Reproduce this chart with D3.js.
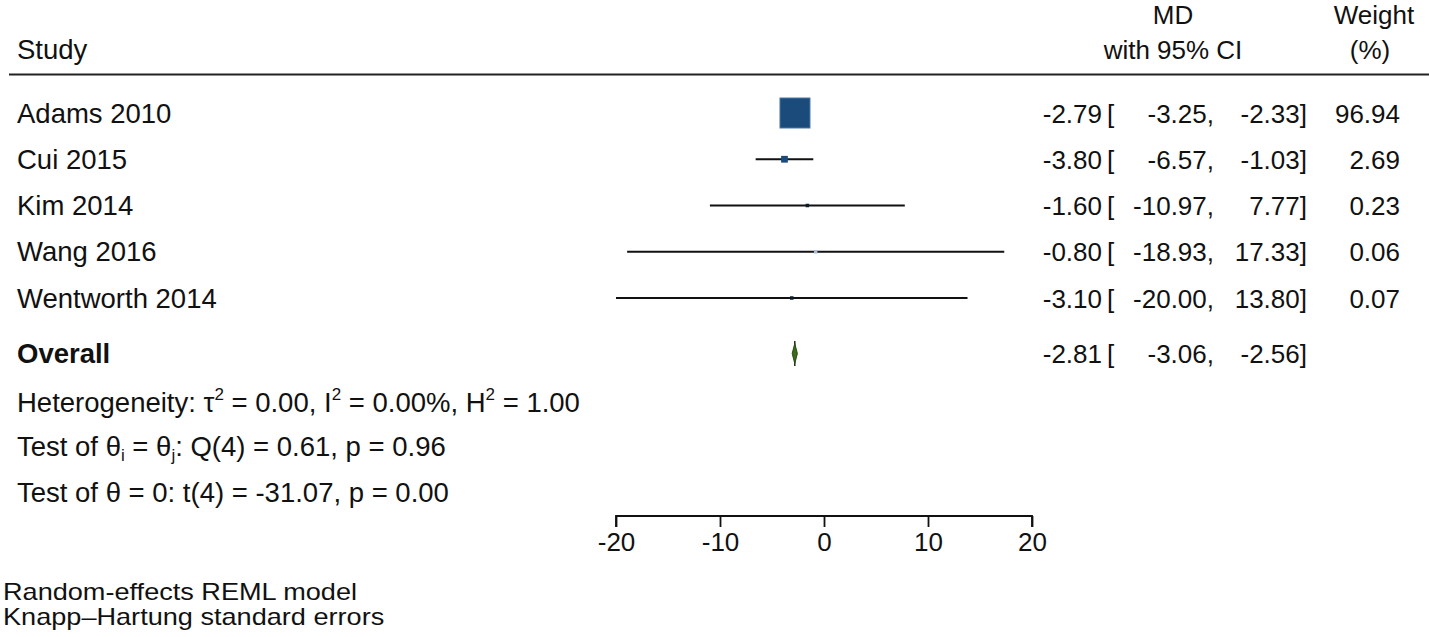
<!DOCTYPE html>
<html><head><meta charset="utf-8">
<script src="https://cdn.jsdelivr.net/npm/d3@7"></script>
<style>
html,body{margin:0;padding:0;background:#fff;}
svg{display:block;font-family:"Liberation Sans",Arial,Helvetica,sans-serif;fill:#111;}
</style></head>
<body>
<svg id="chart" width="1429" height="637"></svg>
<script>
// ---- data ----
const studies = ["Adams 2010", "Cui 2015", "Kim 2014", "Wang 2016", "Wentworth 2014"];
const md      = [-2.79, -3.80, -1.60, -0.80, -3.10];
const lower   = [-3.25, -6.57, -10.97, -18.93, -20.00];
const upper   = [-2.33, -1.03, 7.77, 17.33, 13.80];
const weights = [96.94, 2.69, 0.23, 0.06, 0.07];
const overallLabel = "Overall";
const overallMD = -2.81, overallLo = -3.06, overallHi = -2.56;
const xTicks = [-20, -10, 0, 10, 20];
const footnotes = ["Random-effects REML model", "Knapp\u2013Hartung standard errors"];

// ---- layout ----
const svg = d3.select("#chart");
const FS = 26;      // numbers / header
const FL = 27.5;    // left column labels
const x = d3.scaleLinear().domain([-20, 20]).range([616, 1032]);
const y = d3.scaleLinear().domain([0, 1]).range([113, 159.25]);
const size = d3.scaleSqrt().domain([0, d3.max(weights)]).range([0, 30]);
const f2 = d3.format(".2f");
const asc = s => s.replace(/\u2212/g, "-");
const fmt = v => asc(f2(v));

const rows = studies.map((s, i) => ({s, md: md[i], lo: lower[i], hi: upper[i], w: weights[i], i}));

// header
const hdr = svg.append("g").attr("font-size", FS);
hdr.append("text").attr("x", 17).attr("y", 59).attr("font-size", FL).text("Study");
hdr.append("text").attr("x", 1173).attr("y", 24).attr("text-anchor", "middle").text("MD");
hdr.append("text").attr("x", 1173).attr("y", 59).attr("text-anchor", "middle").text("with 95% CI");
hdr.append("text").attr("x", 1374).attr("y", 24).attr("text-anchor", "middle").text("Weight");
hdr.append("text").attr("x", 1370).attr("y", 59).attr("text-anchor", "middle").text("(%)");
svg.append("line").attr("x1", 9).attr("x2", 1429).attr("y1", 74.5).attr("y2", 74.5)
  .attr("stroke", "#222").attr("stroke-width", 2);

// rows
const g = svg.append("g").attr("font-size", FS);
const rg = g.selectAll("g.row").data(rows).join("g").attr("class", "row");
rg.append("text").attr("x", 17).attr("y", d => y(d.i) + 9.5).attr("font-size", FL).text(d => d.s);
rg.append("line").attr("x1", d => x(d.lo)).attr("x2", d => x(d.hi))
  .attr("y1", d => y(d.i)).attr("y2", d => y(d.i))
  .attr("stroke", "#111").attr("stroke-width", 2);
const ms = d => d.w > 10 ? size(d.w) : Math.max(size(d.w) * 1.35, 3.5);
rg.append("rect")
  .attr("x", d => x(d.md) - ms(d) / 2)
  .attr("y", d => y(d.i) - ms(d) / 2)
  .attr("width", ms)
  .attr("height", ms)
  .attr("fill", d => d.w > 1 ? "#1b4b7b" : (d.i === 3 ? "#a9bdd2" : "#0d1b2a"))
  .attr("stroke", d => d.w > 10 ? "#4a78a6" : "none").attr("stroke-width", 1);

function ciText(sel, yy, est, lo, hi) {
  sel.append("text").attr("x", 1102).attr("y", yy).attr("text-anchor", "end").text(fmt(est));
  sel.append("text").attr("x", 1107).attr("y", yy).text("[");
  sel.append("text").attr("x", 1214).attr("y", yy).attr("text-anchor", "end").text(fmt(lo) + ",");
  sel.append("text").attr("x", 1307).attr("y", yy).attr("text-anchor", "end").text(fmt(hi) + "]");
}
rg.each(function(d) {
  const s = d3.select(this);
  ciText(s, y(d.i) + 9.5, d.md, d.lo, d.hi);
  s.append("text").attr("x", 1400).attr("y", y(d.i) + 9.5).attr("text-anchor", "end").text(f2(d.w));
});

// overall
const oy = y(5.2);
g.append("text").attr("x", 17).attr("y", oy + 9.5).attr("font-size", FL).attr("font-weight", "bold").text(overallLabel);
g.append("line").attr("x1", x(overallMD)).attr("x2", x(overallMD))
  .attr("y1", oy - 12.5).attr("y2", oy + 12.5).attr("stroke", "#1e2a14").attr("stroke-width", 1.5);
g.append("path")
  .attr("d", `M${x(overallLo)},${oy} L${x(overallMD)},${oy - 10} L${x(overallHi)},${oy} L${x(overallMD)},${oy + 10} Z`)
  .attr("fill", "#3d6b1c").attr("stroke", "#2a4d12").attr("stroke-width", 1);
ciText(g, oy + 9.5, overallMD, overallLo, overallHi);

// stats lines
const st = svg.append("g").attr("font-size", FL);
const sup = 17, sh = 12;
const t1 = st.append("text").attr("x", 17).attr("y", y(6.25) + 9.5);
t1.append("tspan").text("Heterogeneity: \u03C4");
t1.append("tspan").attr("font-size", sup).attr("dy", -sh).text("2");
t1.append("tspan").attr("dy", sh).text(" = 0.00, I");
t1.append("tspan").attr("font-size", sup).attr("dy", -sh).text("2");
t1.append("tspan").attr("dy", sh).text(" = 0.00%, H");
t1.append("tspan").attr("font-size", sup).attr("dy", -sh).text("2");
t1.append("tspan").attr("dy", sh).text(" = 1.00");

const t2 = st.append("text").attr("x", 17).attr("y", y(7.2) + 9.5);
t2.append("tspan").text("Test of \u03B8");
t2.append("tspan").attr("font-size", sup).attr("dy", 5).text("i");
t2.append("tspan").attr("dy", -5).text(" = \u03B8");
t2.append("tspan").attr("font-size", sup).attr("dy", 5).text("j");
t2.append("tspan").attr("dy", -5).text(": Q(4) = 0.61, p = 0.96");

st.append("text").attr("x", 17).attr("y", y(8.2) + 9.5).text("Test of \u03B8 = 0: t(4) = -31.07, p = 0.00");

// axis
const ax = svg.append("g").attr("transform", "translate(0,516)")
  .call(d3.axisBottom(x).tickValues(xTicks).tickSize(11).tickPadding(6).tickFormat(d => String(d)));
ax.select(".domain").attr("stroke", "#111").attr("stroke-width", 1.8).attr("d", `M${x(-20)},11V0H${x(20)}V11`);
ax.selectAll(".tick line").attr("stroke", "#111").attr("stroke-width", 1.8);
ax.selectAll(".tick text").attr("font-size", FS).attr("fill", "#111")
  .attr("font-family", "'Liberation Sans',Arial,sans-serif");

// footnotes
svg.append("g").attr("font-size", 24).attr("transform", "translate(3,0) scale(1.13,1)")
  .selectAll("text").data(footnotes).join("text")
  .attr("x", 0).attr("y", (d, i) => 600 + i * 25).text(d => d);
</script>
</body></html>
